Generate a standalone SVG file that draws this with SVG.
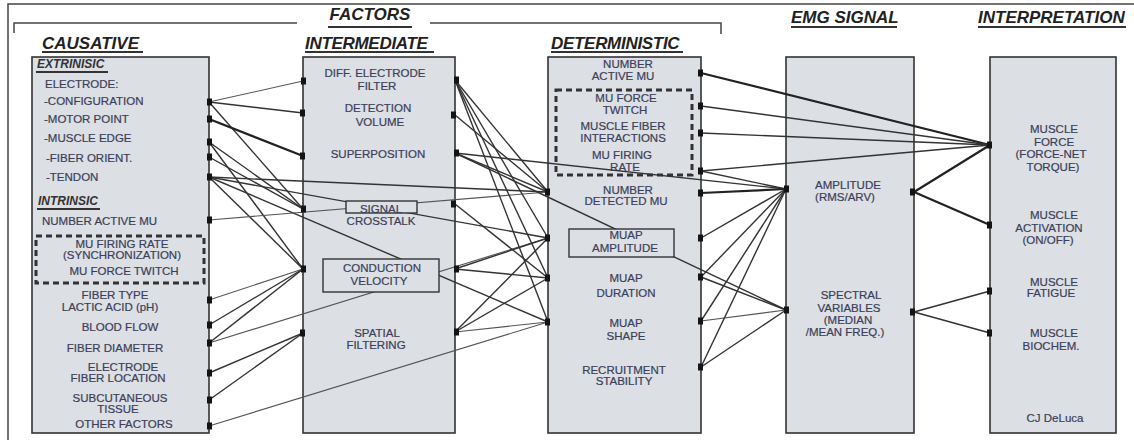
<svg xmlns="http://www.w3.org/2000/svg" width="1134" height="440" viewBox="0 0 1134 440">
<defs>
<style>
.box{fill:#dcdfe4;stroke:#333;stroke-width:1.6}
.inner{fill:#dcdfe4;stroke:#333;stroke-width:1.4}
.dash{fill:none;stroke:#333;stroke-width:3;stroke-dasharray:6 4}
.tx{font-family:"Liberation Sans",Arial,sans-serif;font-size:11.5px;fill:#3b4058;stroke:#3b4058;stroke-width:0.2}
.m{text-anchor:middle}
.hd{font-family:"Liberation Sans",Arial,sans-serif;font-size:17px;font-weight:bold;font-style:italic;fill:#222}
.sub{font-family:"Liberation Sans",Arial,sans-serif;font-size:12px;font-weight:bold;font-style:italic;fill:#333}
.ul{stroke:#333;stroke-width:2}
.frame{fill:none;stroke:#444;stroke-width:1.5}
.c{stroke:#333;stroke-width:1.4;fill:none}
.t{stroke:#555;stroke-width:1.1;fill:none}
.k{stroke:#222;stroke-width:2.2;fill:none}
.dot{fill:#141414}
</style>
</defs>
<rect width="1134" height="440" fill="#fff"/>
<path class="frame" d="M8,440 V4 H1134"/>
<g id="factors-bracket">
<path class="frame" d="M14,33 V23 H297 M430,23 H721 V34"/>
<text class="hd" x="370" y="20" text-anchor="middle">FACTORS</text>
<line class="ul" x1="328" y1="27" x2="412" y2="27"/>
</g>
<g id="headers">
<text class="hd" x="42" y="49">CAUSATIVE</text><line class="ul" x1="42" y1="52" x2="143" y2="52"/>
<text class="hd" x="305" y="49" letter-spacing="-0.3">INTERMEDIATE</text><line class="ul" x1="305" y1="52" x2="434" y2="52"/>
<text class="hd" x="551" y="49" letter-spacing="-0.3">DETERMINISTIC</text><line class="ul" x1="551" y1="52" x2="683" y2="52"/>
<text class="hd" x="791" y="23" font-size="16.5">EMG SIGNAL</text><line class="ul" x1="791" y1="27" x2="897" y2="27"/>
<text class="hd" x="978" y="23" font-size="16.5">INTERPRETATION</text><line class="ul" x1="978" y1="27" x2="1126" y2="27"/>
</g>
<g id="causative">
<rect class="box" x="32" y="57" width="177" height="376"/>
<text class="sub" x="37" y="68">EXTRINISIC</text><line class="ul" x1="36" y1="72" x2="108" y2="72"/>
<text class="tx" x="45" y="88">ELECTRODE:</text>
<text class="tx" x="44" y="105">-CONFIGURATION</text>
<text class="tx" x="44" y="123">-MOTOR POINT</text>
<text class="tx" x="44" y="142">-MUSCLE EDGE</text>
<text class="tx" x="46" y="162">-FIBER ORIENT.</text>
<text class="tx" x="46" y="181">-TENDON</text>
<text class="sub" x="38" y="205">INTRINSIC</text><line class="ul" x1="37" y1="209" x2="100" y2="209"/>
<text class="tx" x="42" y="225">NUMBER ACTIVE MU</text>
<rect class="dash" x="36" y="236" width="168" height="47"/>
<text class="tx m" x="122" y="248">MU FIRING RATE</text>
<text class="tx m" x="122" y="259">(SYNCHRONIZATION)</text>
<text class="tx m" x="124" y="275">MU FORCE TWITCH</text>
<text class="tx m" x="115" y="299">FIBER TYPE</text>
<text class="tx m" x="110" y="311">LACTIC ACID (pH)</text>
<text class="tx m" x="120" y="331">BLOOD FLOW</text>
<text class="tx m" x="115" y="352">FIBER DIAMETER</text>
<text class="tx m" x="123" y="371">ELECTRODE</text>
<text class="tx m" x="118" y="382">FIBER LOCATION</text>
<text class="tx m" x="120" y="402">SUBCUTANEOUS</text>
<text class="tx m" x="118" y="413">TISSUE</text>
<text class="tx m" x="124" y="428">OTHER FACTORS</text>
</g>
<g id="intermediate">
<rect class="box" x="303" y="57" width="152" height="376"/>
<text class="tx m" x="375" y="77">DIFF. ELECTRODE</text>
<text class="tx m" x="377" y="90">FILTER</text>
<text class="tx m" x="378" y="112">DETECTION</text>
<text class="tx m" x="380" y="126">VOLUME</text>
<text class="tx m" x="378" y="158">SUPERPOSITION</text>
<text class="tx m" x="381" y="225">CROSSTALK</text>
<text class="tx m" x="377" y="337">SPATIAL</text>
<text class="tx m" x="376" y="349">FILTERING</text>
</g>
<g id="deterministic">
<rect class="box" x="548" y="57" width="153" height="376"/>
<text class="tx m" x="628" y="68">NUMBER</text>
<text class="tx m" x="623" y="80">ACTIVE MU</text>
<rect class="dash" x="556" y="90" width="136" height="85"/>
<text class="tx m" x="626" y="102">MU FORCE</text>
<text class="tx m" x="625" y="114">TWITCH</text>
<text class="tx m" x="623" y="130">MUSCLE FIBER</text>
<text class="tx m" x="623" y="142">INTERACTIONS</text>
<text class="tx m" x="622" y="159">MU FIRING</text>
<text class="tx m" x="625" y="171">RATE</text>
<text class="tx m" x="628" y="194">NUMBER</text>
<text class="tx m" x="626" y="205">DETECTED MU</text>
<text class="tx m" x="626" y="282">MUAP</text>
<text class="tx m" x="626" y="297">DURATION</text>
<text class="tx m" x="626" y="327">MUAP</text>
<text class="tx m" x="626" y="340">SHAPE</text>
<text class="tx m" x="624" y="374">RECRUITMENT</text>
<text class="tx m" x="624" y="385">STABILITY</text>
</g>
<g id="emg-signal">
<rect class="box" x="786" y="57" width="128" height="376"/>
<text class="tx m" x="848" y="189">AMPLITUDE</text>
<text class="tx m" x="845" y="201">(RMS/ARV)</text>
<text class="tx m" x="851" y="299">SPECTRAL</text>
<text class="tx m" x="849" y="312">VARIABLES</text>
<text class="tx m" x="848" y="324">(MEDIAN</text>
<text class="tx m" x="845" y="336">/MEAN FREQ.)</text>
</g>
<g id="interpretation">
<rect class="box" x="990" y="57" width="126" height="376"/>
<text class="tx m" x="1054" y="133">MUSCLE</text>
<text class="tx m" x="1054" y="146">FORCE</text>
<text class="tx m" x="1051" y="158">(FORCE-NET</text>
<text class="tx m" x="1053" y="171">TORQUE)</text>
<text class="tx m" x="1054" y="219">MUSCLE</text>
<text class="tx m" x="1049" y="232">ACTIVATION</text>
<text class="tx m" x="1048" y="244">(ON/OFF)</text>
<text class="tx m" x="1054" y="286">MUSCLE</text>
<text class="tx m" x="1051" y="297">FATIGUE</text>
<text class="tx m" x="1054" y="337">MUSCLE</text>
<text class="tx m" x="1051" y="350">BIOCHEM.</text>
<text class="tx m" x="1055" y="422">CJ DeLuca</text>
</g>
<g id="connectors">
<line class="t" x1="209" y1="102" x2="303" y2="81"/>
<line class="c" x1="209" y1="102" x2="303" y2="113"/>
<line class="c" x1="209" y1="102" x2="303" y2="209"/>
<line class="k" x1="209" y1="119" x2="303" y2="156"/>
<line class="c" x1="209" y1="142" x2="303" y2="209"/>
<line class="c" x1="209" y1="142" x2="303" y2="269"/>
<line class="c" x1="209" y1="157" x2="303" y2="209"/>
<line class="c" x1="209" y1="177" x2="548" y2="192"/>
<line class="c" x1="209" y1="177" x2="548" y2="238"/>
<line class="c" x1="209" y1="177" x2="548" y2="322"/>
<line class="c" x1="209" y1="177" x2="303" y2="269"/>
<line class="t" x1="209" y1="220" x2="548" y2="192"/>
<line class="t" x1="209" y1="300" x2="303" y2="269"/>
<line class="c" x1="209" y1="325" x2="303" y2="269"/>
<line class="c" x1="209" y1="343" x2="303" y2="269"/>
<line class="t" x1="209" y1="343" x2="548" y2="238"/>
<line class="c" x1="209" y1="373" x2="303" y2="333"/>
<line class="c" x1="209" y1="400" x2="303" y2="333"/>
<line class="t" x1="209" y1="426" x2="548" y2="322"/>
<line class="c" x1="455" y1="80" x2="548" y2="238"/>
<line class="c" x1="455" y1="80" x2="548" y2="278"/>
<line class="c" x1="455" y1="80" x2="548" y2="322"/>
<line class="c" x1="455" y1="80" x2="548" y2="192"/>
<line class="c" x1="455" y1="115" x2="548" y2="192"/>
<line class="c" x1="455" y1="153" x2="548" y2="192"/>
<line class="c" x1="455" y1="153" x2="786" y2="189"/>
<line class="c" x1="455" y1="153" x2="786" y2="310"/>
<line class="c" x1="455" y1="204" x2="548" y2="278"/>
<line class="c" x1="455" y1="269" x2="548" y2="238"/>
<line class="c" x1="455" y1="269" x2="548" y2="278"/>
<line class="c" x1="455" y1="332" x2="548" y2="238"/>
<line class="c" x1="455" y1="332" x2="548" y2="278"/>
<line class="t" x1="455" y1="332" x2="548" y2="322"/>
<line class="k" x1="701" y1="73" x2="990" y2="145"/>
<line class="c" x1="701" y1="106" x2="990" y2="145"/>
<line class="c" x1="701" y1="133" x2="990" y2="145"/>
<line class="c" x1="701" y1="171" x2="990" y2="145"/>
<line class="c" x1="701" y1="171" x2="786" y2="189"/>
<line class="k" x1="701" y1="193" x2="786" y2="189"/>
<line class="c" x1="701" y1="238" x2="786" y2="189"/>
<line class="c" x1="701" y1="277" x2="786" y2="189"/>
<line class="c" x1="701" y1="277" x2="786" y2="310"/>
<line class="c" x1="701" y1="321" x2="786" y2="189"/>
<line class="t" x1="701" y1="321" x2="786" y2="310"/>
<line class="c" x1="701" y1="367" x2="786" y2="189"/>
<line class="c" x1="701" y1="367" x2="786" y2="310"/>
<line class="k" x1="914" y1="192" x2="990" y2="145"/>
<line class="k" x1="914" y1="192" x2="990" y2="225"/>
<line class="c" x1="914" y1="312" x2="990" y2="291"/>
<line class="c" x1="914" y1="312" x2="990" y2="333"/>
</g>
<g id="signal-crosstalk-label">
<rect class="inner" x="346" y="201" width="71" height="12"/>
<text class="tx m" x="381" y="213">SIGNAL</text>
</g>
<g id="conduction-velocity">
<rect class="inner" x="323" y="259" width="116" height="33"/>
<text class="tx m" x="382" y="272">CONDUCTION</text>
<text class="tx m" x="379" y="285">VELOCITY</text>
</g>
<g id="muap-amplitude">
<rect class="inner" x="569" y="229" width="105" height="28"/>
<text class="tx m" x="626" y="239">MUAP</text>
<text class="tx m" x="625" y="252">AMPLITUDE</text>
</g>
<g id="ports">
<rect class="dot" x="207" y="98.5" width="5" height="7"/>
<rect class="dot" x="207" y="115.5" width="5" height="7"/>
<rect class="dot" x="207" y="138.5" width="5" height="7"/>
<rect class="dot" x="207" y="153.5" width="5" height="7"/>
<rect class="dot" x="207" y="173.5" width="5" height="7"/>
<rect class="dot" x="207" y="216.5" width="5" height="7"/>
<rect class="dot" x="207" y="296.5" width="5" height="7"/>
<rect class="dot" x="207" y="321.5" width="5" height="7"/>
<rect class="dot" x="207" y="339.5" width="5" height="7"/>
<rect class="dot" x="207" y="369.5" width="5" height="7"/>
<rect class="dot" x="207" y="396.5" width="5" height="7"/>
<rect class="dot" x="207" y="422.5" width="5" height="7"/>
<rect class="dot" x="301" y="77.5" width="5" height="7"/>
<rect class="dot" x="300" y="109.5" width="5" height="7"/>
<rect class="dot" x="300" y="152.5" width="5" height="7"/>
<rect class="dot" x="301" y="205.5" width="5" height="7"/>
<rect class="dot" x="301" y="265.5" width="5" height="7"/>
<rect class="dot" x="300" y="329.5" width="5" height="7"/>
<rect class="dot" x="454" y="76.5" width="5" height="7"/>
<rect class="dot" x="451" y="111.5" width="5" height="7"/>
<rect class="dot" x="454" y="149.5" width="5" height="7"/>
<rect class="dot" x="451" y="200.5" width="5" height="7"/>
<rect class="dot" x="454" y="265.5" width="5" height="7"/>
<rect class="dot" x="454" y="328.5" width="5" height="7"/>
<rect class="dot" x="545" y="188.5" width="5" height="7"/>
<rect class="dot" x="545" y="234.5" width="5" height="7"/>
<rect class="dot" x="545" y="274.5" width="5" height="7"/>
<rect class="dot" x="545" y="318.5" width="5" height="7"/>
<rect class="dot" x="698" y="69.5" width="5" height="7"/>
<rect class="dot" x="698" y="102.5" width="5" height="7"/>
<rect class="dot" x="698" y="129.5" width="5" height="7"/>
<rect class="dot" x="698" y="167.5" width="5" height="7"/>
<rect class="dot" x="698" y="189.5" width="5" height="7"/>
<rect class="dot" x="698" y="234.5" width="5" height="7"/>
<rect class="dot" x="698" y="273.5" width="5" height="7"/>
<rect class="dot" x="698" y="317.5" width="5" height="7"/>
<rect class="dot" x="698" y="363.5" width="5" height="7"/>
<rect class="dot" x="784" y="185.5" width="5" height="7"/>
<rect class="dot" x="784" y="306.5" width="5" height="7"/>
<rect class="dot" x="910" y="188.5" width="5" height="7"/>
<rect class="dot" x="910" y="308.5" width="5" height="7"/>
<rect class="dot" x="987" y="141.5" width="5" height="7"/>
<rect class="dot" x="987" y="221.5" width="5" height="7"/>
<rect class="dot" x="987" y="287.5" width="5" height="7"/>
<rect class="dot" x="987" y="329.5" width="5" height="7"/>
</g>
</svg>
